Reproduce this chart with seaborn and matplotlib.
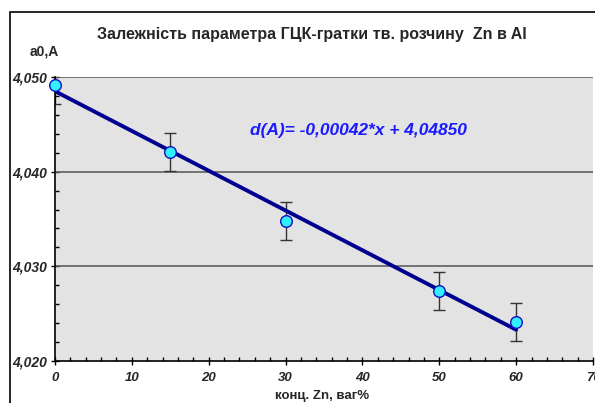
import matplotlib
matplotlib.use("Agg")
import matplotlib.pyplot as plt
import seaborn as sns
import numpy as np
import pandas as pd
from matplotlib.ticker import MultipleLocator, FuncFormatter
from matplotlib.patches import Rectangle

conc = [0, 15, 30, 50, 60]
a0 = [4.0492, 4.0421, 4.0348, 4.0274, 4.0241]
err = [0.002, 0.002, 0.002, 0.002, 0.002]
slope = -0.00042
intercept = 4.04850
title = "Залежність параметра ГЦК-гратки тв. розчину  Zn в Al"
ylabel = "a0,A"
xlabel = "конц. Zn, ваг%"
eq_text = "d(A)= -0,00042*x + 4,04850"

sns.set_theme(style="white")
plt.rcParams['font.family'] = ['Liberation Sans', 'DejaVu Sans']

fig = plt.figure(figsize=(5.95, 4.03), dpi=100)
ax = fig.add_axes([55/595, 1-361/403, (593-55)/595, (361-77)/403])

# outer frame
fig.patches.append(Rectangle((10/595, -0.01), 1.0, 1-12/403+0.01, transform=fig.transFigure,
                             fill=False, edgecolor="black", linewidth=1.2, zorder=0))

ax.set_facecolor("#e3e3e3")
df = pd.DataFrame({"x": conc, "y": a0})
fit_x = np.array([conc[0], conc[-1]])
fit_df = pd.DataFrame({"x": fit_x, "y": intercept + slope * fit_x})

for yv in [4.030, 4.040, 4.050]:
    ax.axhline(yv, color="#606060", linewidth=1.2, zorder=1)

ax.errorbar(conc, a0, yerr=err, fmt="none", ecolor="#333333", elinewidth=1.0,
            capsize=4, capthick=1.0, zorder=2)
sns.lineplot(data=fit_df, x="x", y="y", ax=ax, color="#000090", linewidth=2.8, zorder=3)
sns.scatterplot(data=df, x="x", y="y", ax=ax, s=70, color="#33eeff", edgecolor="#1010c0",
                linewidth=1.0, zorder=4, clip_on=False)

ax.set_xlim(0, 70)
ax.set_ylim(4.020, 4.050)
ax.xaxis.set_major_locator(MultipleLocator(10))
ax.xaxis.set_minor_locator(MultipleLocator(2))
ax.yaxis.set_major_locator(MultipleLocator(0.010))
ax.yaxis.set_minor_locator(MultipleLocator(0.002))
ax.yaxis.set_major_formatter(FuncFormatter(lambda v, p: f"{v:.3f}".replace(".", ",")))
ax.xaxis.set_major_formatter(FuncFormatter(lambda v, p: f"{int(round(v))}"))

for lab in ax.get_xticklabels() + ax.get_yticklabels():
    lab.set_fontweight("bold")
    lab.set_fontstyle("italic")
    lab.set_fontsize(10)
for lab in ax.get_xticklabels():
    lab.set_fontsize(9.5)
ax.tick_params(axis="both", which="major", direction="inout", length=6, width=1, color="black",
               bottom=True, left=True)
ax.tick_params(axis="both", which="minor", direction="in", length=3, width=1, color="black",
               bottom=True, left=True)
ax.tick_params(axis="x", pad=5)
ax.tick_params(axis="y", pad=3)

for s in ["top", "right"]:
    ax.spines[s].set_visible(False)
for s in ["left", "bottom"]:
    ax.spines[s].set_color("black")
    ax.spines[s].set_linewidth(1.2)

ax.set_xlabel("")
ax.set_ylabel("")
fig.text(312/595, 1-35/403, title, ha="center", va="center", fontsize=11.5, fontweight="bold")
fig.text(44/595, 1-52/403, ylabel, ha="center", va="center", fontsize=10, fontweight="bold")
fig.text(322/595, 1-396/403, xlabel, ha="center", va="center", fontsize=9.5, fontweight="bold")
ax.text(0.362, 0.81, eq_text, transform=ax.transAxes, ha="left", va="center", fontsize=12.5,
        fontweight="bold", fontstyle="italic", color="#1a1aff")

fig.savefig("out.png", dpi=100, facecolor="white")
